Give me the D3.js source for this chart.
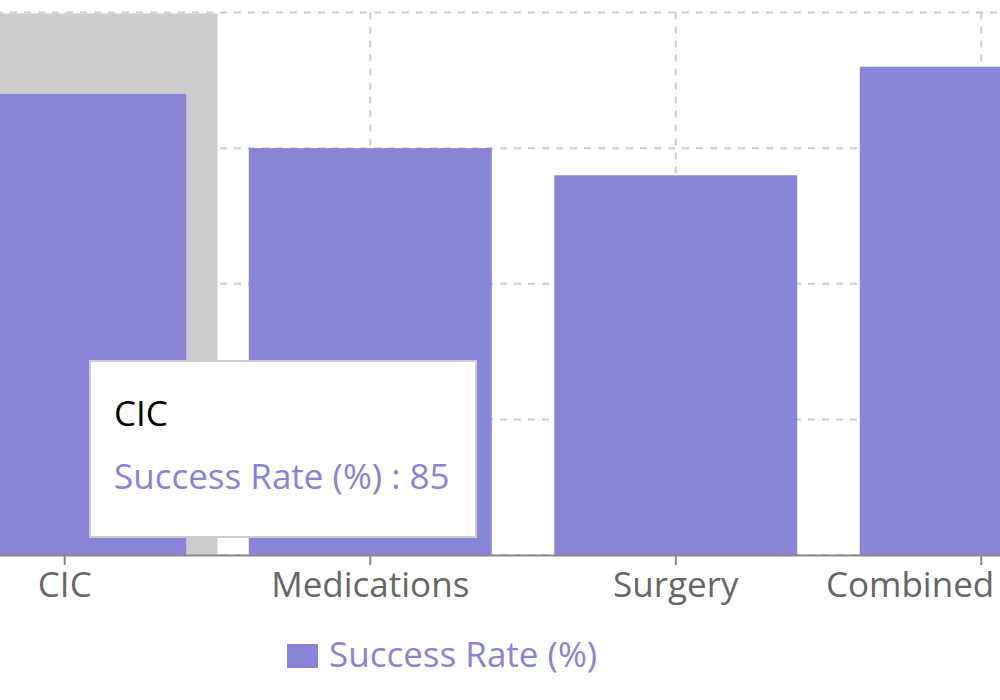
<!DOCTYPE html>
<html lang="en">
<head>
    <meta charset="UTF-8">
    <title>Success Rate</title>
    <script src="https://cdn.jsdelivr.net/npm/d3@7/dist/d3.min.js"></script>
    <style>
        html, body { margin: 0; padding: 0; background: #fff; overflow: hidden; }
        text { font-family: "Segoe UI", "Open Sans", sans-serif; }
    </style>
</head>
<body>
<svg width="1000" height="700" id="chart"></svg>

<script>
    // data
    var categories = ["CIC", "Medications", "Surgery", "Combined"];
    var successRate = [85, 75, 70, 90];
    var yTicks = [0, 25, 50, 75, 100];
    var seriesName = "Success Rate (%)";
    var activeIndex = 0; // tooltip on CIC

    var barColor = "#8884d8";
    var gridColor = "#ccc";
    var fontSize = "35px";

    var svg = d3.select("#chart");

    // the plot is larger than the window, left part is cut off
    var plotLeft = -88, plotRight = 1134;
    var plotTop = 12.5, plotBottom = 555;

    var x = d3.scaleBand()
        .domain(categories)
        .range([plotLeft, plotRight])
        .padding(0);
    var step = x.bandwidth();
    var barWidth = 243;
    var barOffset = (step - barWidth) / 2;

    var y = d3.scaleLinear()
        .domain([0, 100])
        .range([plotBottom, plotTop]);

    // grid
    var grid = svg.append("g");
    grid.selectAll("line.h")
        .data(yTicks)
        .enter()
        .append("line")
        .attr("x1", plotLeft)
        .attr("x2", plotRight)
        .attr("y1", function (d) { return y(d); })
        .attr("y2", function (d) { return y(d); })
        .attr("stroke", gridColor)
        .attr("stroke-width", 2)
        .attr("stroke-dasharray", "7 7");
    grid.selectAll("line.v")
        .data(categories)
        .enter()
        .append("line")
        .attr("x1", function (d) { return x(d) + step / 2; })
        .attr("x2", function (d) { return x(d) + step / 2; })
        .attr("y1", plotTop)
        .attr("y2", plotBottom)
        .attr("stroke", gridColor)
        .attr("stroke-width", 2)
        .attr("stroke-dasharray", "7 7");

    // hover cursor
    svg.append("rect")
        .attr("x", x(categories[activeIndex]))
        .attr("y", plotTop + 1)
        .attr("width", step)
        .attr("height", plotBottom - plotTop - 1)
        .attr("fill", "#ccc");

    // bars
    svg.selectAll("rect.bar")
        .data(successRate)
        .enter()
        .append("rect")
        .attr("class", "bar")
        .attr("x", function (d, i) { return x(categories[i]) + barOffset; })
        .attr("y", function (d) { return y(d); })
        .attr("width", barWidth)
        .attr("height", function (d) { return plotBottom - y(d); })
        .attr("fill", barColor);

    // x axis
    var xAxis = d3.axisBottom(x).tickSize(10).tickSizeOuter(0).tickPadding(4);
    var axisG = svg.append("g")
        .attr("transform", "translate(0," + plotBottom + ")")
        .call(xAxis);
    axisG.select(".domain").attr("stroke", "#888").attr("stroke-width", 2);
    axisG.selectAll(".tick line").attr("stroke", "#888").attr("stroke-width", 2);
    axisG.selectAll(".tick text")
        .attr("fill", "#666")
        .style("font-size", fontSize)
        .attr("dy", "0.8em");
    // last label is pushed in so it fits
    axisG.selectAll(".tick text")
        .filter(function (d) { return d === "Combined"; })
        .attr("text-anchor", "end")
        .attr("x", 13);

    // legend
    var legend = svg.append("g");
    legend.append("rect")
        .attr("x", 287)
        .attr("y", 644)
        .attr("width", 31)
        .attr("height", 24)
        .attr("fill", barColor);
    legend.append("text")
        .attr("x", 329)
        .attr("y", 667)
        .attr("fill", barColor)
        .style("font-size", fontSize)
        .text(seriesName);

    // tooltip
    var tip = svg.append("g");
    tip.append("rect")
        .attr("x", 90)
        .attr("y", 361)
        .attr("width", 386)
        .attr("height", 176)
        .attr("fill", "#fff")
        .attr("stroke", "#ccc")
        .attr("stroke-width", 2);
    tip.append("text")
        .attr("x", 114)
        .attr("y", 426)
        .attr("fill", "#000")
        .style("font-size", fontSize)
        .text(categories[activeIndex]);
    tip.append("text")
        .attr("x", 114)
        .attr("y", 489)
        .attr("fill", barColor)
        .style("font-size", fontSize)
        .text(seriesName + " : " + successRate[activeIndex]);
</script>
</body>
</html>
